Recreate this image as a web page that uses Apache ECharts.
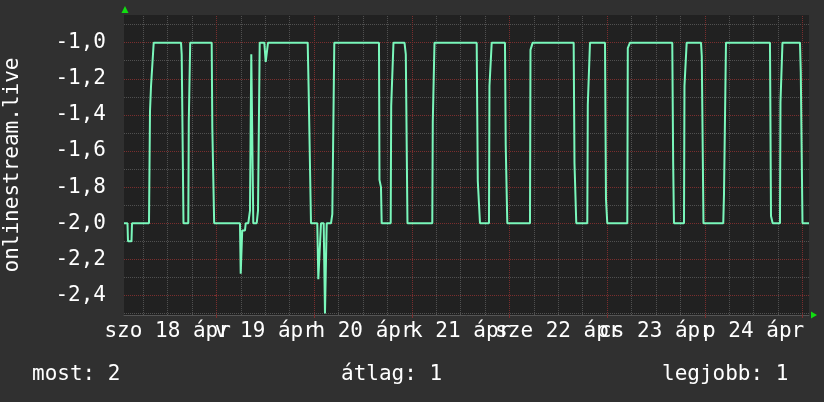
<!DOCTYPE html>
<html>
<head>
<meta charset="utf-8">
<script src="https://cdn.jsdelivr.net/npm/echarts@6/dist/echarts.min.js"></script>
<style>
html,body{margin:0;padding:0;background:#303030;}
#c{width:824px;height:402px;}
</style>
</head>
<body>
<div id="c"></div>
<script>
// time in hours relative to Sun 19 Apr 00:00
const hours = [-22.73,-21.87,-21.75,-20.89,-20.76,-16.59,-16.34,-16.09,-15.60,-15.43,
  -8.72,-8.55,-8.31,-8.11,-6.93,-6.81,-6.63,-6.46,-1.18,-1.03,-0.79,-0.57,
  5.77,5.95,6.14,6.32,7.00,7.18,7.81,8.23,8.55,8.80,9.04,9.88,10.20,10.62,11.75,12.09,12.34,12.66,
  22.41,22.66,23.05,23.22,24.77,25.02,25.51,25.68,26.34,26.66,26.90,27.08,28.14,28.46,28.75,28.95,
  39.93,40.05,40.42,40.59,42.81,42.93,43.30,43.49,46.20,46.52,46.76,46.93,
  53.03,53.15,53.32,53.57,63.94,64.21,64.46,64.75,66.96,67.08,67.40,67.63,
  70.89,71.07,71.26,71.46,77.04,77.16,77.48,77.70,87.77,87.97,88.27,88.41,
  91.12,91.24,91.59,91.78,95.47,95.71,96.03,100.95,101.07,101.36,101.61,
  112.00,112.22,112.42,114.88,115.00,115.32,115.54,119.06,119.25,119.37,119.67,
  124.53,124.71,124.95,125.20,136.01,136.26,136.67,138.47,138.59,138.89,139.08,
  143.38,143.58,143.83,144.00,145.60];
const values = [-2.0,-2.0,-2.1,-2.1,-2.0,-2.0,-1.38,-1.24,-1.24,-1.0,
  -1.0,-1.065,-1.065,-2.0,-2.0,-1.44,-1.44,-1.0,-1.0,-1.47,-1.47,-2.0,
  -2.0,-2.28,-2.28,-2.04,-2.04,-2.0,-2.0,-1.93,-1.065,-1.065,-2.0,-2.0,-1.93,-1.0,-1.0,-1.107,-1.107,-1.0,
  -1.0,-1.277,-1.277,-2.0,-2.0,-2.31,-2.31,-2.0,-2.0,-2.5,-2.5,-2.0,-2.0,-1.95,-1.95,-1.0,
  -1.0,-1.76,-1.8,-2.0,-2.0,-1.35,-1.35,-1.0,-1.0,-1.065,-1.065,-2.0,
  -2.0,-1.44,-1.44,-1.0,-1.0,-1.766,-1.766,-2.0,-2.0,-1.24,-1.24,-1.0,
  -1.0,-1.565,-1.565,-2.0,-2.0,-1.04,-1.04,-1.0,-1.0,-1.666,-1.666,-2.0,
  -2.0,-1.345,-1.345,-1.0,-1.0,-1.866,-2.0,-2.0,-1.03,-1.03,-1.0,
  -1.0,-1.664,-2.0,-2.0,-1.24,-1.24,-1.0,-1.0,-1.074,-1.074,-2.0,
  -2.0,-1.84,-1.84,-1.0,-1.0,-1.96,-2.0,-2.0,-1.33,-1.33,-1.0,
  -1.0,-1.164,-1.164,-2.0,-2.0];
const dayLabels = ['szo 18 ápr','v 19 ápr','h 20 ápr','k 21 ápr','sze 22 ápr','cs 23 ápr','p 24 ápr'];
const dayLabelHours = [-12,12,36,60,84,108,132];
const majorXHours = [0,24,48,72,96,120,144];
const minorXHours = [-18,-12,-6,6,12,18,30,36,42,54,60,66,78,84,90,102,108,114,126,132,138];
const majorY = [-2.4,-2.2,-2.0,-1.8,-1.6,-1.4,-1.2,-1.0];
const minorY = [-2.5,-2.3,-2.1,-1.9,-1.7,-1.5,-1.3,-1.1,-0.9];
const legendTexts = ['most: 2','átlag: 1','legjobb: 1'];
const seriesName = 'onlinestream.live';

const X_MIN = -22.73, X_MAX = 145.6, Y_MIN = -2.508, Y_MAX = -0.847;
const FONT = 'DejaVu Sans Mono';
const MAJOR = '#7a2e2e', MINOR = '#505050';

const data = hours.map((h, i) => [h, values[i]]);

const gridLines = [];
minorXHours.forEach(v => gridLines.push({xAxis: v, lineStyle: {color: MINOR, type: [1, 1], width: 1}}));
minorY.forEach(v => gridLines.push({yAxis: v, lineStyle: {color: MINOR, type: [1, 1], width: 1}}));
majorXHours.forEach(v => gridLines.push({xAxis: v, lineStyle: {color: MAJOR, type: [1, 1], width: 1}}));
majorY.forEach(v => gridLines.push({yAxis: v, lineStyle: {color: MAJOR, type: [1, 1], width: 1}}));

// blank placeholder labels at the axis ends so the real first/last day labels are kept
const labelValues = [X_MIN + 0.01].concat(dayLabelHours, [X_MAX - 0.01]);

const txt = {color: '#fff', fontFamily: FONT, fontSize: 21, fontWeight: 'normal'};

const chart = echarts.init(document.getElementById('c'), null, {renderer: 'canvas'});
chart.setOption({
  backgroundColor: '#303030',
  animation: false,
  title: [
    {text: legendTexts[0], left: 32, top: 364, padding: 0, textStyle: txt},
    {text: legendTexts[1], left: 341, top: 364, padding: 0, textStyle: txt},
    {text: legendTexts[2], left: 662, top: 364, padding: 0, textStyle: txt}
  ],
  grid: {left: 124, right: 15, top: 15, bottom: 87, show: true, backgroundColor: '#212121', borderWidth: 0,
    containLabel: false, outerBoundsMode: 'none'},
  xAxis: {
    type: 'value', min: X_MIN, max: X_MAX, position: 'bottom',
    axisLine: {show: true, lineStyle: {color: '#555', width: 1}},
    axisTick: {show: true, customValues: majorXHours, length: 3, lineStyle: {color: MAJOR}},
    axisLabel: {show: true, customValues: labelValues, hideOverlap: false,
      margin: 6, color: '#fff', fontFamily: FONT, fontSize: 21,
      formatter: v => {
        const i = dayLabelHours.indexOf(v);
        return i >= 0 ? dayLabels[i] : ' ';
      }},
    splitLine: {show: false}
  },
  yAxis: {
    type: 'value', min: Y_MIN, max: Y_MAX, position: 'left',
    name: seriesName, nameLocation: 'middle', nameRotate: 90, nameGap: 101,
    nameTextStyle: {color: '#fff', fontFamily: FONT, fontSize: 21},
    axisLine: {show: false},
    axisTick: {show: true, customValues: majorY, length: 2, lineStyle: {color: MAJOR}},
    axisLabel: {show: true, customValues: majorY, showMinLabel: true, showMaxLabel: true,
      margin: 18, color: '#fff', fontFamily: FONT, fontSize: 21,
      formatter: v => v.toFixed(1).replace('.', ',')},
    splitLine: {show: false}
  },
  graphic: [
    {type: 'polygon', shape: {points: [[125, 6], [121.5, 13], [128.5, 13]]}, style: {fill: '#11dd11'}, silent: true},
    {type: 'polygon', shape: {points: [[817, 315], [811, 311.5], [811, 318.5]]}, style: {fill: '#11dd11'}, silent: true}
  ],
  series: [
    {
      name: 'grid', type: 'line', data: [], z: 1, silent: true,
      markLine: {silent: true, symbol: ['none', 'none'], label: {show: false}, animation: false, data: gridLines}
    },
    {
      name: seriesName, type: 'line', data: data, showSymbol: false, symbol: 'none',
      lineStyle: {color: '#7af7bb', width: 2}, clip: true, z: 5
    }
  ]
});
</script>
</body>
</html>
